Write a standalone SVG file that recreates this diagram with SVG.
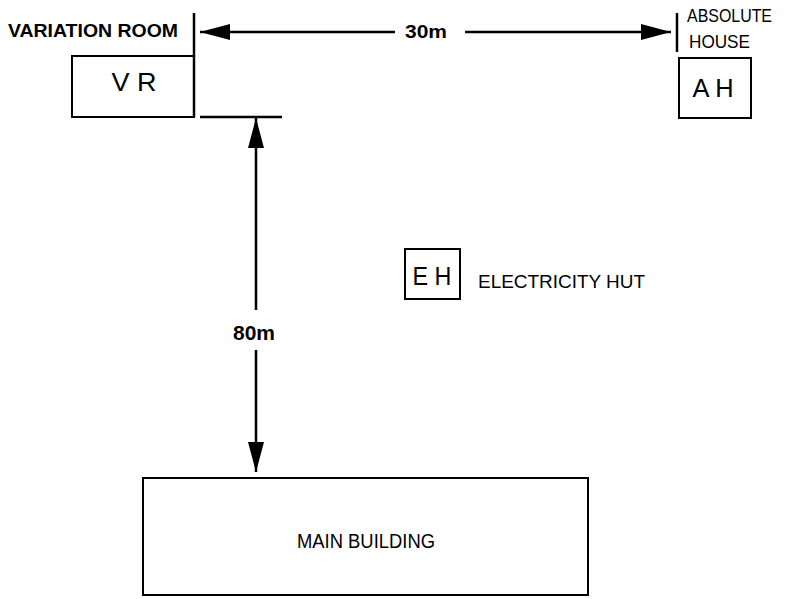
<svg xmlns="http://www.w3.org/2000/svg" width="785" height="599" viewBox="0 0 785 599">
<defs>
<style>
.ln{stroke:#000;stroke-width:2.5;fill:none}
.bx{stroke:#000;stroke-width:2;fill:#fff}
.t{font-family:"Liberation Sans",Arial,sans-serif;fill:#000}
</style>
<marker id="ah" viewBox="0 0 30 16" refX="30" refY="8" markerWidth="30" markerHeight="16" markerUnits="userSpaceOnUse" orient="auto">
<path d="M0,0 L30,8 L0,16 Z" fill="#000"/>
</marker>
</defs>
<rect width="785" height="599" fill="#fff"/>
<g id="vr">
<text class="t" x="8" y="37" font-size="19" font-weight="bold" textLength="170" lengthAdjust="spacingAndGlyphs">VARIATION ROOM</text>
<rect class="bx" x="72" y="56" width="122" height="61"/>
<line class="ln" x1="194" y1="13" x2="194" y2="117"/>
<text class="t" x="134" y="91" font-size="26" text-anchor="middle" textLength="45" lengthAdjust="spacingAndGlyphs">V R</text>
</g>
<g id="ah-house">
<line class="ln" x1="677" y1="13" x2="677" y2="52"/>
<text class="t" x="687" y="22" font-size="18" textLength="85" lengthAdjust="spacingAndGlyphs">ABSOLUTE</text>
<text class="t" x="689" y="48" font-size="18" textLength="61" lengthAdjust="spacingAndGlyphs">HOUSE</text>
<rect class="bx" x="679" y="58" width="72" height="60"/>
<text class="t" x="713" y="97" font-size="25" text-anchor="middle" textLength="41" lengthAdjust="spacingAndGlyphs">A H</text>
</g>
<g id="eh">
<rect class="bx" x="405" y="249" width="55" height="50"/>
<text class="t" x="432" y="285" font-size="26" text-anchor="middle" textLength="39" lengthAdjust="spacingAndGlyphs">E H</text>
<text class="t" x="478" y="288" font-size="18" textLength="167" lengthAdjust="spacingAndGlyphs">ELECTRICITY HUT</text>
</g>
<g id="main">
<rect class="bx" x="143" y="478" width="445" height="117"/>
<text class="t" x="366" y="548" font-size="20" text-anchor="middle" textLength="138" lengthAdjust="spacingAndGlyphs">MAIN BUILDING</text>
</g>
<g id="connectors">
<line class="ln" x1="200" y1="117" x2="282" y2="117"/>
<line class="ln" x1="395" y1="32" x2="200" y2="32" marker-end="url(#ah)"/>
<line class="ln" x1="465" y1="32" x2="671" y2="32" marker-end="url(#ah)"/>
<text class="t" x="426" y="38" font-size="18" font-weight="bold" text-anchor="middle" textLength="42" lengthAdjust="spacingAndGlyphs">30m</text>
<line class="ln" x1="256" y1="310" x2="256" y2="118" marker-end="url(#ah)"/>
<line class="ln" x1="256" y1="350" x2="256" y2="472" marker-end="url(#ah)"/>
<text class="t" x="254" y="340" font-size="20" font-weight="bold" text-anchor="middle" textLength="42" lengthAdjust="spacingAndGlyphs">80m</text>
</g>
</svg>
